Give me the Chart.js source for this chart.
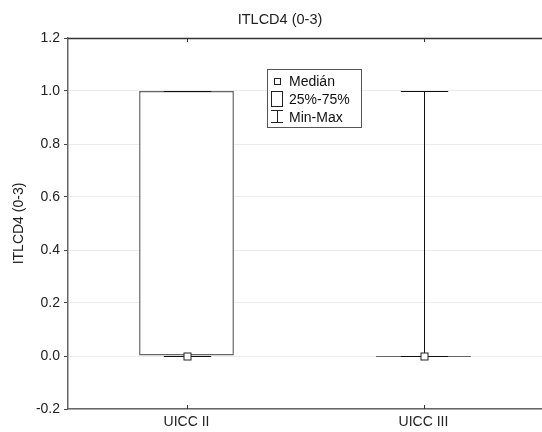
<!DOCTYPE html>
<html lang="en">
  <head>
    <meta charset="utf-8" />
    <title>ITLCD4 (0-3)</title>
    <style>
      html, body { margin: 0; padding: 0; background: #fff; overflow: hidden; }
      .chartBox { width: 542px; height: 432px; }
    </style>
  </head>
  <body>
    <div class="chartBox"><canvas id="myChart"></canvas></div>

    <script src="https://cdn.jsdelivr.net/npm/chart.js/dist/chart.umd.min.js"></script>
    <script>
      // data
      const chartTitle = "ITLCD4 (0-3)";
      const categories = ["UICC II", "UICC III"];
      const mins = [0, 0];
      const q1 = [0, 0];
      const medians = [0, 0];
      const q3 = [1, 0];
      const maxs = [1, 1];
      const yTicks = [-0.2, 0, 0.2, 0.4, 0.6, 0.8, 1.0, 1.2];
      const legendLabels = ["Medián", "25%-75%", "Min-Max"];

      const FONT = "'Liberation Sans', Arial, sans-serif";
      const crisp = (v) => Math.round(v) + 0.5;

      // whiskers, medians, flat boxes
      const boxPlot = {
        id: "boxPlot",
        afterDatasetsDraw(chart) {
          const { ctx, scales: { y } } = chart;
          const meta = chart.getDatasetMeta(0);
          ctx.save();
          ctx.lineWidth = 1;
          meta.data.forEach((bar, i) => {
            const x = crisp(bar.x);
            const w = bar.width;
            const cap = w / 2;
            const yMin = crisp(y.getPixelForValue(mins[i]));
            const yMax = crisp(y.getPixelForValue(maxs[i]));
            const yQ1 = crisp(y.getPixelForValue(q1[i]));
            const yQ3 = crisp(y.getPixelForValue(q3[i]));
            const yMed = crisp(y.getPixelForValue(medians[i]));

            if (q1[i] === q3[i]) {
              ctx.strokeStyle = "#666";
              ctx.beginPath();
              ctx.moveTo(bar.x - w / 2, yQ1);
              ctx.lineTo(bar.x + w / 2, yQ1);
              ctx.stroke();
            }

            ctx.strokeStyle = "#111";
            ctx.beginPath();
            if (maxs[i] > q3[i]) { ctx.moveTo(x, yQ3); ctx.lineTo(x, yMax); }
            if (mins[i] < q1[i]) { ctx.moveTo(x, yQ1); ctx.lineTo(x, yMin); }
            ctx.moveTo(x - cap / 2, yMax); ctx.lineTo(x + cap / 2, yMax);
            ctx.moveTo(x - cap / 2, yMin); ctx.lineTo(x + cap / 2, yMin);
            ctx.stroke();

            ctx.fillStyle = "#fff";
            ctx.strokeStyle = "#222";
            ctx.fillRect(x - 3.5, yMed - 3.5, 7, 7);
            ctx.strokeRect(x - 3.5, yMed - 3.5, 7, 7);
          });
          ctx.restore();
        },
        afterDraw(chart) {
          const { ctx, chartArea: a, scales: { x } } = chart;
          ctx.save();
          // top frame line
          ctx.strokeStyle = "#333";
          ctx.lineWidth = 1.5;
          ctx.beginPath();
          ctx.moveTo(a.left, a.top + 0.5);
          ctx.lineTo(a.right, a.top + 0.5);
          ctx.stroke();
          // inward category ticks
          ctx.lineWidth = 1;
          ctx.strokeStyle = "#333";
          ctx.beginPath();
          categories.forEach((c, i) => {
            const px = crisp(x.getPixelForValue(i));
            ctx.moveTo(px, a.top); ctx.lineTo(px, a.top + 4);
            ctx.moveTo(px, a.bottom); ctx.lineTo(px, a.bottom - 4);
          });
          ctx.stroke();

          // title
          ctx.fillStyle = "#222";
          ctx.font = "14.5px " + FONT;
          ctx.textAlign = "center";
          ctx.textBaseline = "alphabetic";
          ctx.fillText(chartTitle, 280, 24);

          // legend
          ctx.fillStyle = "#fff";
          ctx.fillRect(267, 69, 94, 58);
          ctx.strokeStyle = "#555";
          ctx.strokeRect(267.5, 69.5, 94, 58);
          ctx.strokeStyle = "#222";
          ctx.strokeRect(274.5, 78.5, 6, 6);
          ctx.strokeRect(271.5, 91.5, 11, 15);
          ctx.beginPath();
          ctx.moveTo(271, 110.5); ctx.lineTo(283, 110.5);
          ctx.moveTo(277.5, 110.5); ctx.lineTo(277.5, 122.5);
          ctx.moveTo(271, 122.5); ctx.lineTo(283, 122.5);
          ctx.stroke();
          ctx.fillStyle = "#111";
          ctx.font = "14px " + FONT;
          ctx.textAlign = "left";
          legendLabels.forEach((t, i) => ctx.fillText(t, 289, 86 + i * 18));
          ctx.restore();
        },
      };

      const config = {
        type: "bar",
        data: {
          labels: categories,
          datasets: [
            {
              data: q1.map((v, i) => [v, q3[i]]),
              backgroundColor: "#fff",
              borderColor: "#666",
              borderWidth: 1.5,
              borderSkipped: false,
              barPercentage: 0.4,
              categoryPercentage: 1,
            },
          ],
        },
        options: {
          responsive: true,
          maintainAspectRatio: false,
          animation: false,
          layout: { padding: { left: 0, right: -5, top: 38, bottom: 0 } },
          scales: {
            x: {
              grid: { display: false },
              border: { display: true, color: "#666", width: 1.5 },
              ticks: { color: "#222", font: { size: 14, family: FONT }, padding: -3 },
              afterFit: (s) => { s.height = 23; },
            },
            y: {
              min: -0.2,
              max: 1.2,
              afterBuildTicks: (s) => { s.ticks = yTicks.map((v) => ({ value: v })); },
              grid: { color: "#ececec", tickColor: "#444", tickLength: 4 },
              border: { display: true, color: "#666", width: 1.5 },
              ticks: {
                color: "#222",
                font: { size: 14, family: FONT },
                padding: 4,
                callback: (v) => Number(v).toFixed(1),
              },
              title: {
                display: true,
                text: chartTitle,
                color: "#222",
                font: { size: 14, family: FONT },
                padding: { top: 11, bottom: 0 },
              },
              afterFit: (s) => { s.width = 68; },
            },
          },
          plugins: {
            legend: { display: false },
            tooltip: { enabled: false },
          },
        },
        plugins: [boxPlot],
      };

      const myChart = new Chart(document.getElementById("myChart"), config);
    </script>
  </body>
</html>
